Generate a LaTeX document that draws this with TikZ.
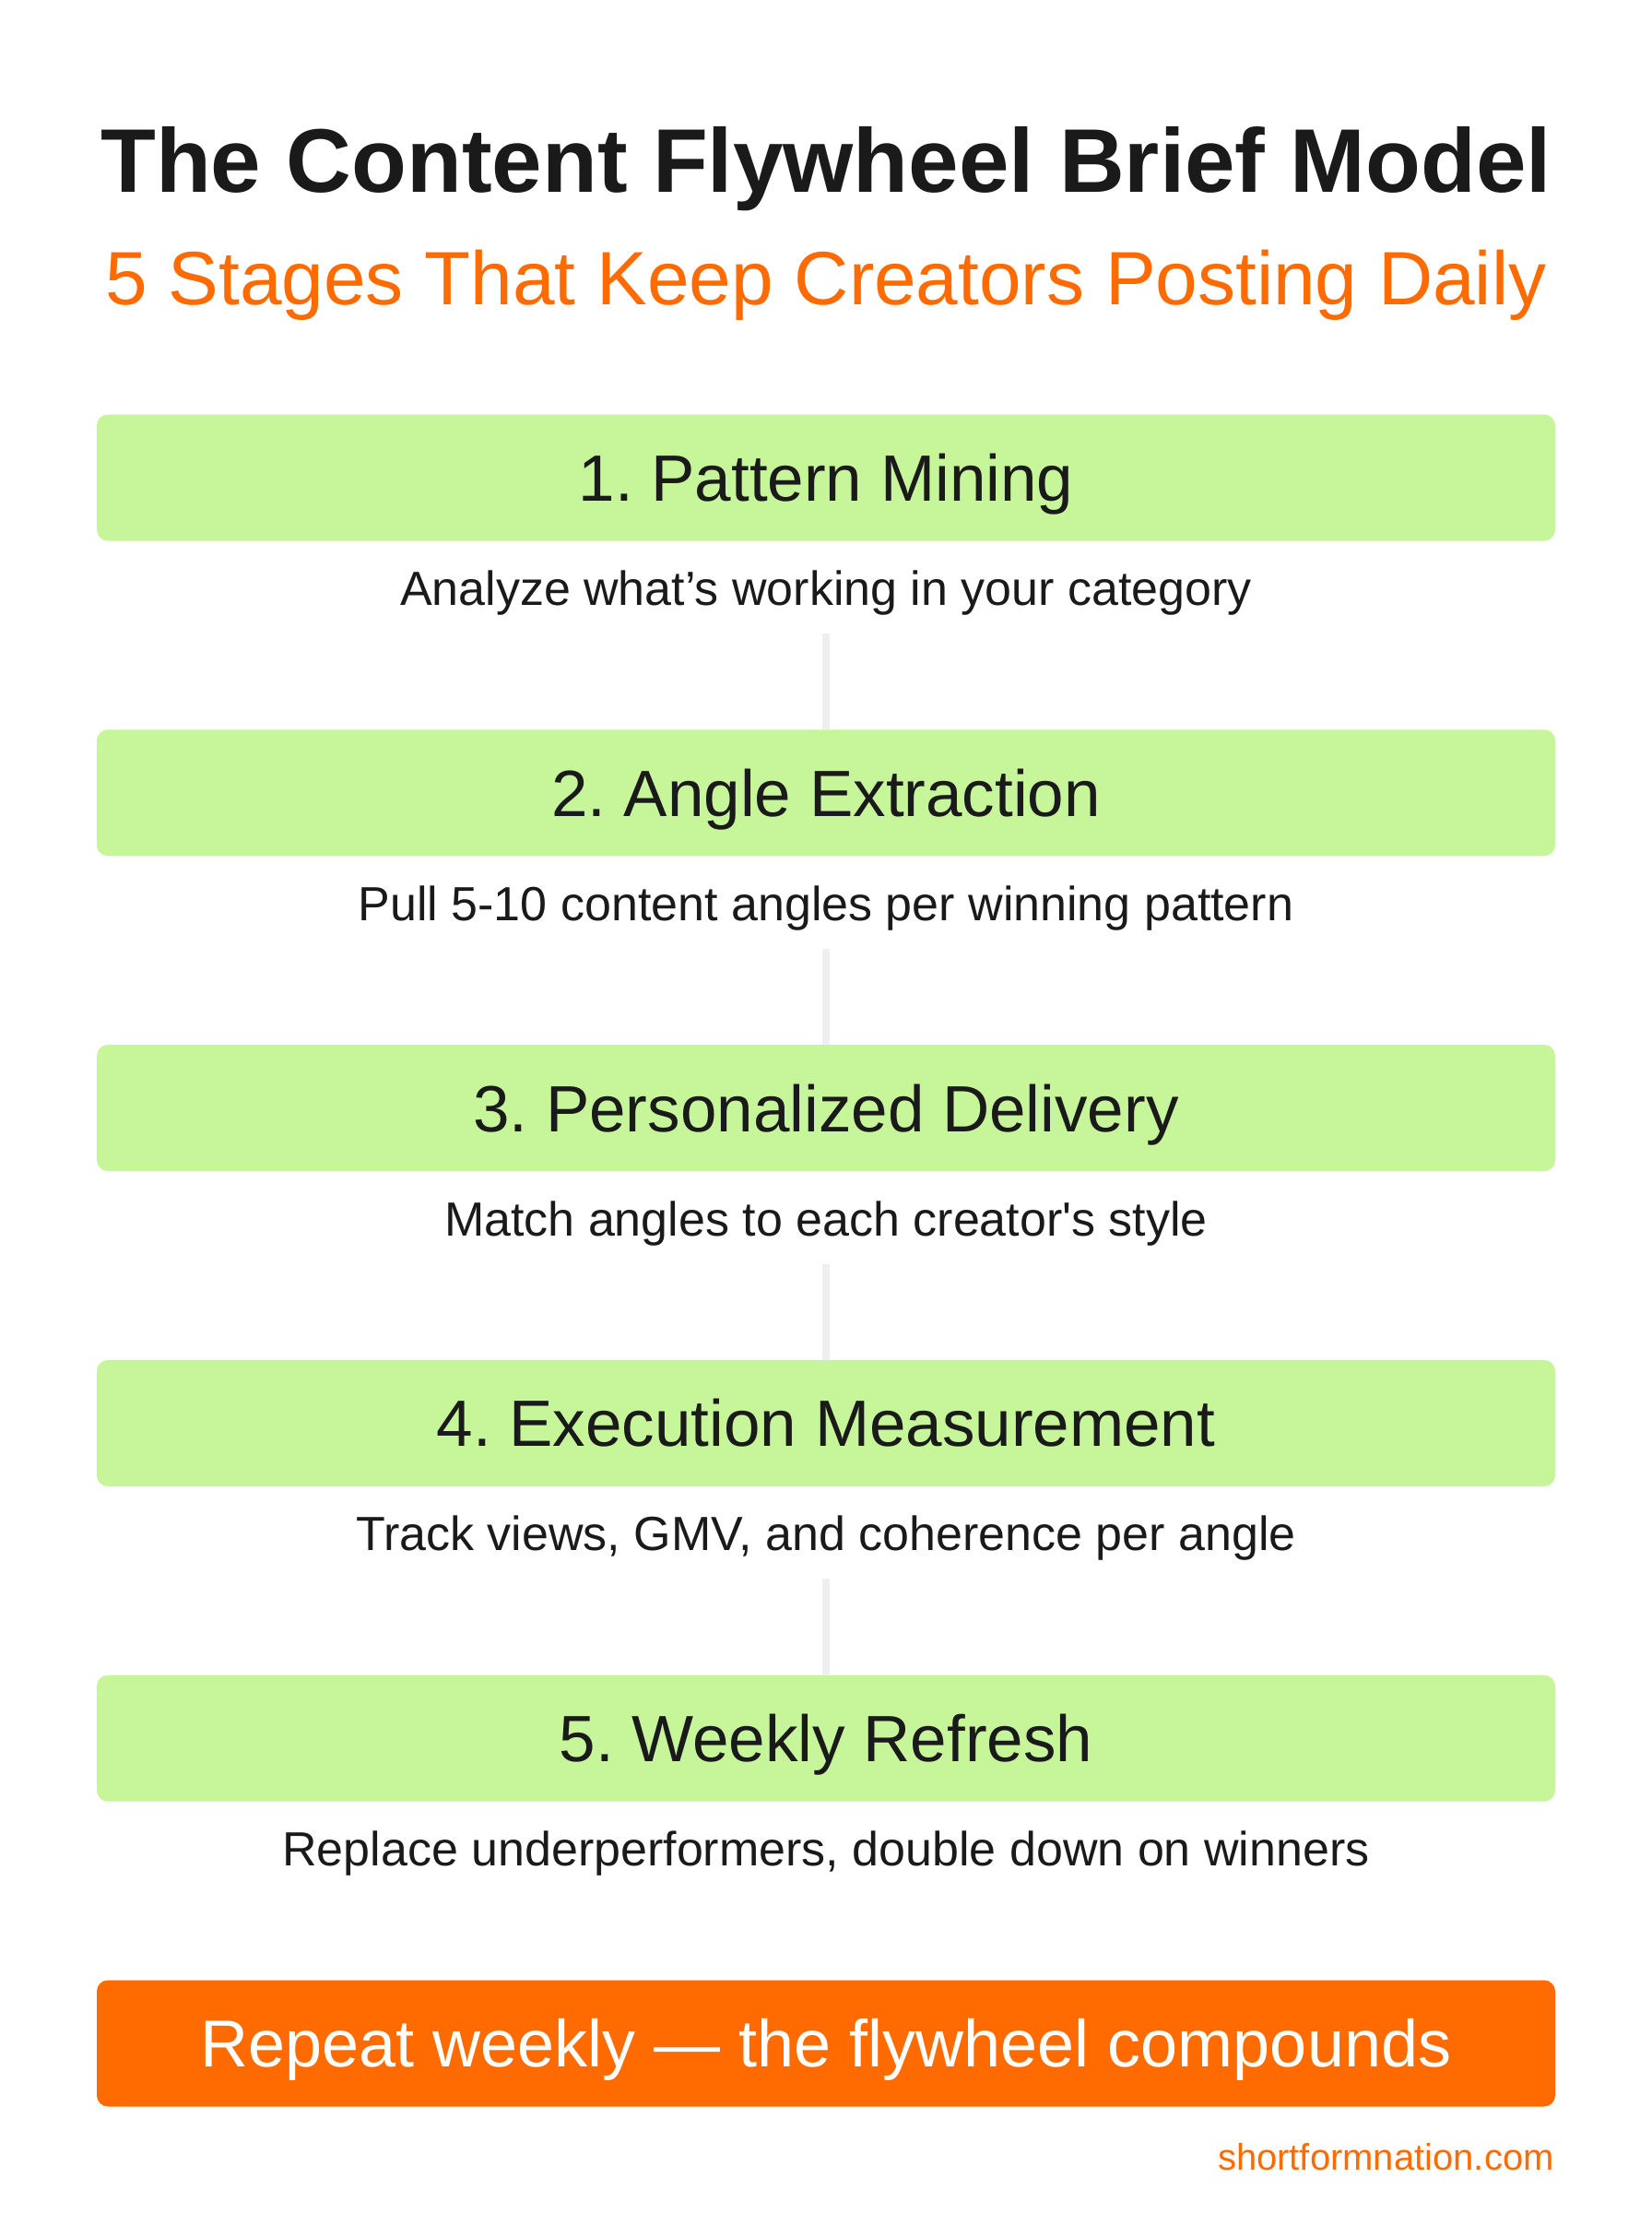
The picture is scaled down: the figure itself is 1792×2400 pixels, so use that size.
\documentclass[tikz,border=0pt]{standalone}
\usepackage{fontspec}
\setmainfont{Liberation Sans}
\usetikzlibrary{positioning}
\frenchspacing

\definecolor{stagegreen}{HTML}{C7F59A}
\definecolor{flyorange}{HTML}{FF6B00}
\definecolor{inkdark}{HTML}{1A1A1A}
\definecolor{linegray}{HTML}{EFEFEF}

\begin{document}
\begin{tikzpicture}[
    x=0.5pt, y=-0.5pt,
    title/.style={anchor=base, inner sep=0pt, text=inkdark, font=\fontsize{49}{58}\selectfont\bfseries},
    subtitle/.style={anchor=base, inner sep=0pt, text=flyorange, font=\fontsize{41}{49}\selectfont},
    stage/.style={rectangle, fill=stagegreen, rounded corners=6pt, minimum width=791pt, minimum height=68.5pt,
        inner sep=0pt, text height=25.4pt, text depth=0pt, text=inkdark, font=\fontsize{35.5}{42}\selectfont},
    desc/.style={inner sep=0pt, text height=18.6pt, text depth=0pt, text=inkdark, font=\fontsize{26}{31}\selectfont},
    link/.style={draw=linegray, line width=4pt},
    repeatbox/.style={rectangle, fill=flyorange, rounded corners=6pt, minimum width=791pt, minimum height=68.5pt,
        inner sep=0pt, text height=25.8pt, text depth=0pt, text=white, font=\fontsize{36}{43}\selectfont},
    footer/.style={anchor=base east, inner sep=0pt, text=flyorange, font=\fontsize{20}{24}\selectfont}
]

% Page
\fill[white] (0,0) rectangle (1792,2400);
\useasboundingbox (0,0) rectangle (1792,2400);

% Heading
\node[title] (head) at (896,208) {The Content Flywheel Brief Model};
\node[subtitle] (sub) at (896,330) {5 Stages That Keep Creators Posting Daily};

% Stages
\node[stage] (pattern) at (896,518) {1. Pattern Mining};
\node[desc, below=16pt of pattern] (pattern-desc) {Analyze what’s working in your category};

\node[stage, below=67pt of pattern-desc] (angle) {2. Angle Extraction};
\node[desc, below=16pt of angle] (angle-desc) {Pull 5-10 content angles per winning pattern};

\node[stage, below=67pt of angle-desc] (delivery) {3. Personalized Delivery};
\node[desc, below=16pt of delivery] (delivery-desc) {Match angles to each creator\textquotesingle s style};

\node[stage, below=67pt of delivery-desc] (measure) {4. Execution Measurement};
\node[desc, below=16pt of measure] (measure-desc) {Track views, GMV, and coherence per angle};

\node[stage, below=67pt of measure-desc] (refresh) {5. Weekly Refresh};
\node[desc, below=16pt of refresh] (refresh-desc) {Replace underperformers, double down on winners};

% Loop back
\node[repeatbox, below=61.5pt of refresh-desc] (repeat) {Repeat weekly — the flywheel compounds};
\node[footer] (site) at (1686,2353) {shortformnation.com};

% Connections
\draw[link] ([yshift=-15pt]pattern-desc.south) -- (angle.north);
\draw[link] ([yshift=-15pt]angle-desc.south) -- (delivery.north);
\draw[link] ([yshift=-15pt]delivery-desc.south) -- (measure.north);
\draw[link] ([yshift=-15pt]measure-desc.south) -- (refresh.north);

\end{tikzpicture}
\end{document}
